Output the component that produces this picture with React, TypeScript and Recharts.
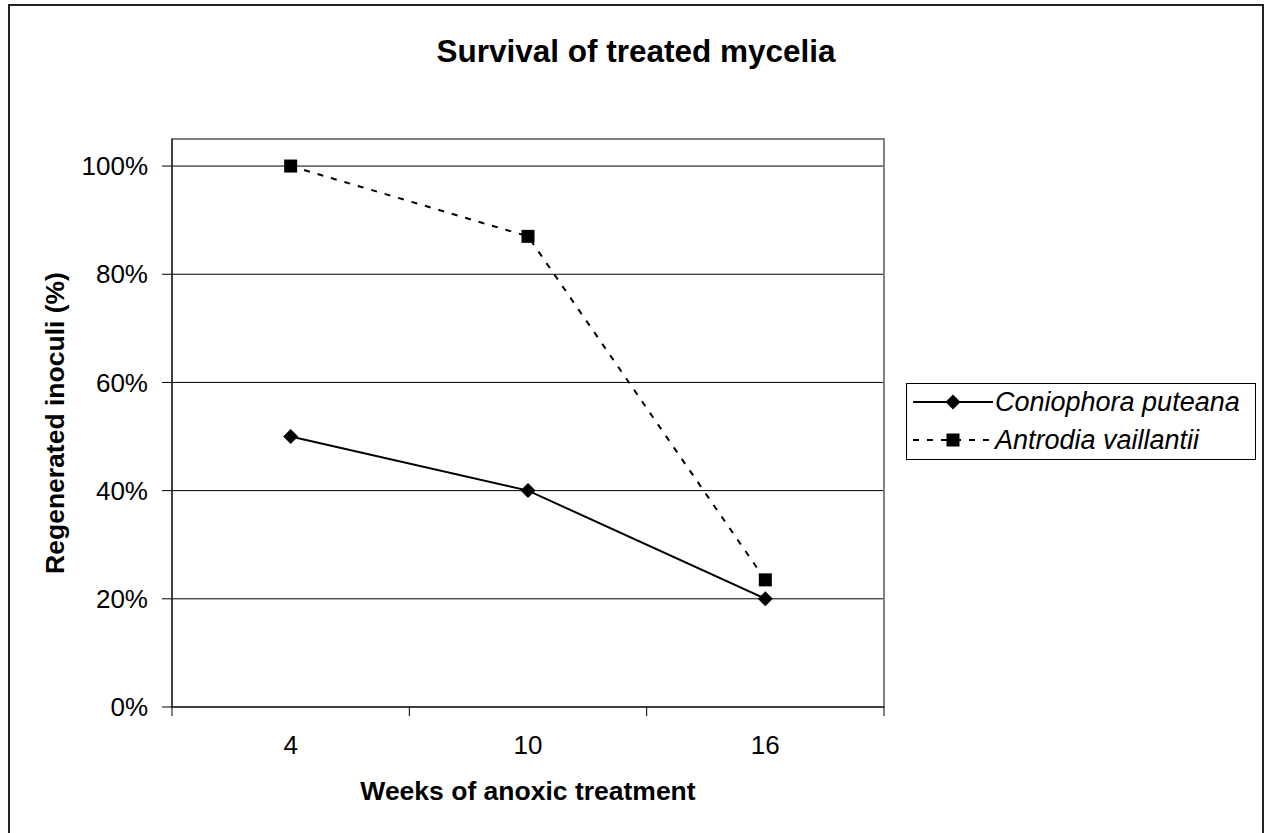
import React from 'react';
import { LineChart, Line, XAxis, YAxis, CartesianGrid, ReferenceArea, Legend } from 'recharts';

const weeks = ['4', '10', '16'];
const positions = [0.5, 1.5, 2.5];
const coniophora = [0.5, 0.4, 0.2];
const antrodia = [1.0, 0.87, 0.235];
const yTicks = [0, 0.2, 0.4, 0.6, 0.8, 1.0];
const xTicks = [0, 0.5, 1, 1.5, 2, 2.5, 3];
const seriesNames = ['Coniophora puteana', 'Antrodia vaillantii'];

const data = weeks.map((w, i) => ({
  week: w,
  pos: positions[i],
  coniophora: coniophora[i],
  antrodia: antrodia[i],
}));

const FONT = '"Liberation Sans", Arial, Helvetica, sans-serif';

const Diamond = (props: any) => {
  const { cx, cy, index } = props;
  if (cx == null || cy == null) return null;
  const r = 7.5;
  return (
    <polygon
      key={`d-${index}`}
      points={`${cx},${cy - r} ${cx + r},${cy} ${cx},${cy + r} ${cx - r},${cy}`}
      fill="#000"
    />
  );
};

const Square = (props: any) => {
  const { cx, cy, index } = props;
  if (cx == null || cy == null) return null;
  const s = 13;
  return <rect key={`s-${index}`} x={cx - s / 2} y={cy - s / 2} width={s} height={s} fill="#000" />;
};

const XTick = (props: any) => {
  const { x, y, payload } = props;
  const v = payload.value;
  if (Number.isInteger(v)) {
    return <line x1={x} x2={x} y1={y} y2={y + 9} stroke="#000" strokeWidth={1} />;
  }
  return (
    <text x={x} y={y + 47} textAnchor="middle" fontSize={26} fontFamily={FONT} fill="#000">
      {weeks[Math.floor(v)]}
    </text>
  );
};

const LegendBox = () => (
  <svg width={350} height={77} style={{ display: 'block' }}>
    <rect x={0.5} y={0.5} width={349} height={76} fill="#fff" stroke="#000" strokeWidth={1} />
    <line x1={7} x2={87} y1={19} y2={19} stroke="#000" strokeWidth={2} />
    <polygon points="47,11.5 54.5,19 47,26.5 39.5,19" fill="#000" />
    <text x={89} y={28} fontSize={27} fontStyle="italic" fontFamily={FONT} fill="#000">
      {seriesNames[0]}
    </text>
    <line x1={7} x2={87} y1={57} y2={57} stroke="#000" strokeWidth={2} strokeDasharray="6 8" />
    <rect x={40.5} y={50.5} width={13} height={13} fill="#000" />
    <text x={89} y={66} fontSize={27} fontStyle="italic" fontFamily={FONT} fill="#000">
      {seriesNames[1]}
    </text>
  </svg>
);

export default function App() {
  return (
    <div style={{ position: 'absolute', left: 0, top: 0, width: 1266, height: 833, background: '#fff', fontFamily: FONT }}>
      <LineChart
        width={1266}
        height={833}
        data={data}
        margin={{ top: 139, right: 382, bottom: 66, left: 112 }}
      >
        <CartesianGrid vertical={false} stroke="#000" strokeWidth={1} />
        <ReferenceArea x1={0} x2={3} y1={0} y2={1.05} fill="none" stroke="#808080" strokeWidth={2} ifOverflow="visible" />
        <XAxis
          dataKey="pos"
          type="number"
          domain={[0, 3]}
          ticks={xTicks}
          interval={0}
          height={60}
          tickLine={false}
          tickSize={0}
          tickMargin={0}
          axisLine={{ stroke: '#000', strokeWidth: 1 }}
          tick={(p: any) => <XTick {...p} />}
        />
        <YAxis
          type="number"
          domain={[0, 1.05]}
          ticks={yTicks}
          interval={0}
          width={60}
          tickSize={10}
          tickMargin={14}
          tickLine={{ stroke: '#000' }}
          axisLine={{ stroke: '#000', strokeWidth: 1 }}
          tick={{ fill: '#000', fontSize: 26, fontFamily: FONT }}
          tickFormatter={(v: number) => `${Math.round(v * 100)}%`}
        />
        <Legend
          layout="vertical"
          align="center"
          verticalAlign="middle"
          content={() => <LegendBox />}
          wrapperStyle={{ left: 906, top: 383, width: 350, height: 77 }}
        />
        <Line
          name={seriesNames[1]}
          dataKey="antrodia"
          stroke="#000"
          strokeWidth={2}
          strokeDasharray="6 8"
          dot={(p: any) => <Square {...p} />}
          isAnimationActive={false}
        />
        <Line
          name={seriesNames[0]}
          dataKey="coniophora"
          stroke="#000"
          strokeWidth={2}
          dot={(p: any) => <Diamond {...p} />}
          isAnimationActive={false}
        />
      </LineChart>
      <svg
        width={1266}
        height={833}
        style={{ position: 'absolute', left: 0, top: 0, pointerEvents: 'none' }}
      >
        <rect x={9} y={5} width={1254} height={840} fill="none" stroke="#222" strokeWidth={2} />
        <text x={636} y={62} textAnchor="middle" fontWeight="bold" fontSize={31.5} fontFamily={FONT} fill="#000">
          Survival of treated mycelia
        </text>
        <text x={528} y={800} textAnchor="middle" fontWeight="bold" fontSize={26.5} fontFamily={FONT} fill="#000">
          Weeks of anoxic treatment
        </text>
        <text
          transform="translate(64,423) rotate(-90)"
          textAnchor="middle"
          fontWeight="bold"
          fontSize={26.5}
          fontFamily={FONT}
          fill="#000"
        >
          Regenerated inoculi (%)
        </text>
      </svg>
    </div>
  );
}
